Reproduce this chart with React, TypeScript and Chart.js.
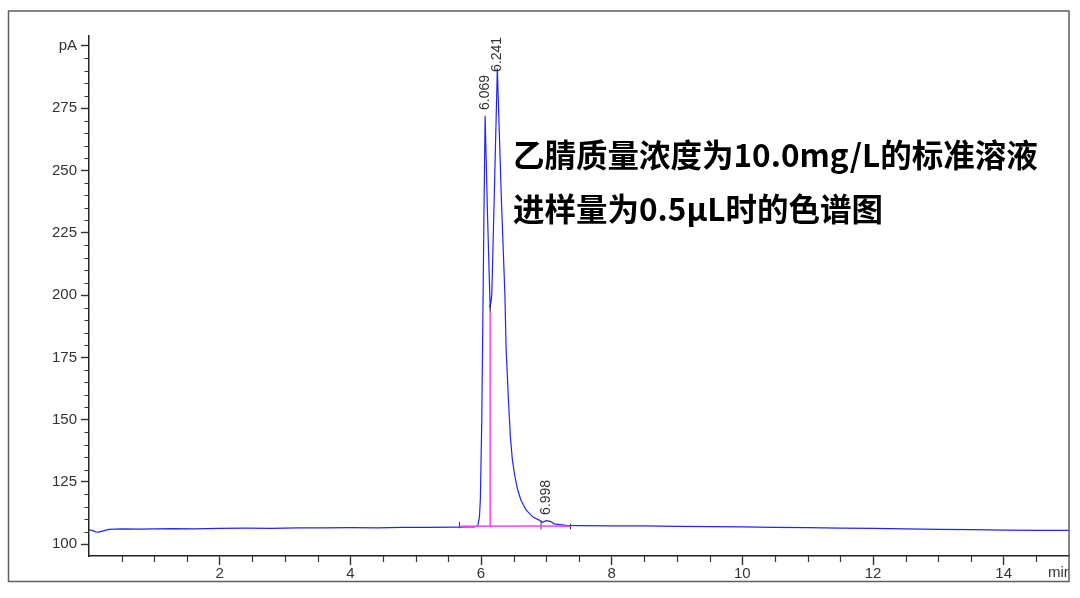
import React, { useEffect, useRef } from 'react';
import { Chart, registerables } from 'chart.js';

Chart.register(...registerables);

// Chromatogram trace (time in min, signal in pA)
const times = [
  0.0, 0.05, 0.1, 0.15, 0.22, 0.3, 0.5, 0.8, 1.0, 1.3, 1.6, 2.0, 2.4, 2.8, 3.2, 3.6, 4.0, 4.4, 4.8, 5.2, 5.6,
  5.9, 5.95, 5.976, 5.99, 6.012, 6.03, 6.045, 6.063, 6.1, 6.14, 6.165, 6.21, 6.25, 6.31, 6.366, 6.385,
  6.42, 6.45, 6.48, 6.52, 6.56, 6.61, 6.69, 6.79, 6.89, 6.94, 7.0, 7.06, 7.12, 7.3,
  7.5, 8.0, 8.5, 9.0, 9.5, 10.0, 10.5, 11.0, 11.5, 12.0, 12.5, 13.0, 13.5, 14.0, 14.5, 15.0,
];
const signal = [
  105.8, 105.6, 105.0, 104.9, 105.4, 106.0, 106.2, 106.1, 106.2, 106.3, 106.2, 106.4, 106.5, 106.4, 106.6, 106.6,
  106.7, 106.6, 106.8, 106.8, 106.9,
  107.0, 107.3, 111.0, 118.0, 150.0, 195.0, 232.0, 272.0, 232.0, 195.0, 200.0, 247.0, 291.0, 240.0, 200.0,
  178.0, 158.0, 143.0, 134.0, 127.0, 122.0, 117.8, 113.8, 111.0, 109.7, 108.8, 109.5, 109.2, 108.2, 107.6,
  107.5, 107.4, 107.4, 107.2, 107.1, 107.0, 106.8, 106.7, 106.5, 106.4, 106.2, 106.0, 105.9, 105.7, 105.6, 105.6,
];

// Peak annotations
const peakTimes = [6.069, 6.241, 6.998];
const peakLabels = ['6.069', '6.241', '6.998'];
const peakLabelBase = [274.3, 289.6, 111.8];

// Integration baselines
const baseStartTimes = [5.67, 6.92];
const baseStartValues = [107.2, 107.3];
const baseEndTimes = [6.92, 7.37];
const baseEndValues = [107.3, 107.2];

// Peak separation drop line
const dropTimes = [6.14];
const dropBottoms = [107.2];
const dropTops = [193.3];
const dropMarkTops = [196.0];

// Integration event ticks
const eventTimes = [5.67, 6.92, 7.37];
const eventLows = [106.4, 106.0, 106.1];
const eventHighs = [109.0, 109.4, 108.2];

// Axes
const yMin = 95.3;
const yMax = 304;
const yMajorStep = 25;
const yMinorStep = 5;
const xMin = 0;
const xMax = 15;
const xMajorStep = 2;
const xMinorStep = 0.5;
const yUnitLabel = 'pA';
const xUnitLabel = 'min';

const annotationLines = ['乙腈质量浓度为10.0mg/L的标准溶液', '进样量为0.5μL时的色谱图'];

const AXIS_FONT = '"Liberation Sans", Arial, sans-serif';

export default function App() {
  const ref = useRef<HTMLCanvasElement | null>(null);

  useEffect(() => {
    document.body.style.margin = '0';
    const canvas = ref.current;
    if (!canvas) return;

    const trace = times.map((t, i) => ({ x: t, y: signal[i] }));

    const overlay: any[] = [];
    baseStartTimes.forEach((t, i) => {
      overlay.push({
        data: [
          { x: t, y: baseStartValues[i] },
          { x: baseEndTimes[i], y: baseEndValues[i] },
        ],
        borderColor: '#ff3cff',
        borderWidth: 1.5,
      });
    });
    dropTimes.forEach((t, i) => {
      overlay.push({
        data: [
          { x: t, y: dropBottoms[i] },
          { x: t, y: dropTops[i] },
        ],
        borderColor: '#ff3cff',
        borderWidth: 1.5,
      });
      overlay.push({
        data: [
          { x: t, y: dropTops[i] },
          { x: t, y: dropMarkTops[i] },
        ],
        borderColor: '#222',
        borderWidth: 1.2,
      });
    });
    eventTimes.forEach((t, i) => {
      overlay.push({
        data: [
          { x: t, y: eventLows[i] },
          { x: t, y: eventHighs[i] },
        ],
        borderColor: '#333',
        borderWidth: 1,
      });
    });

    const decorPlugin = {
      id: 'decor',
      beforeDraw(chart: any) {
        const c = chart.ctx;
        c.save();
        c.fillStyle = '#fff';
        c.fillRect(0, 0, chart.width, chart.height);
        c.restore();
      },
      afterDraw(chart: any) {
        const c = chart.ctx;
        const xs = chart.scales.x;
        const ys = chart.scales.y;
        const area = chart.chartArea;
        c.save();
        // minor ticks
        c.strokeStyle = '#333';
        c.lineWidth = 1.2;
        c.beginPath();
        for (let v = 100; v <= 300; v += yMinorStep) {
          if (v % yMajorStep === 0) continue;
          const py = Math.round(ys.getPixelForValue(v)) + 0.5;
          c.moveTo(area.left - 4.5, py);
          c.lineTo(area.left, py);
        }
        for (let v = xMinorStep; v < xMax; v += xMinorStep) {
          if (Math.abs(v % xMajorStep) < 1e-9) continue;
          const px = Math.round(xs.getPixelForValue(v)) + 0.5;
          c.moveTo(px, area.bottom);
          c.lineTo(px, area.bottom + 6);
        }
        c.stroke();

        // peak labels (rotated)
        c.fillStyle = '#333';
        c.font = `14px ${AXIS_FONT}`;
        c.textAlign = 'left';
        c.textBaseline = 'middle';
        peakTimes.forEach((t, i) => {
          const px = xs.getPixelForValue(t);
          const py = ys.getPixelForValue(peakLabelBase[i]);
          c.save();
          c.translate(px, py);
          c.rotate(-Math.PI / 2);
          c.fillText(peakLabels[i], 0, 0);
          c.restore();
        });

        // x unit label
        c.save();
        c.beginPath();
        c.rect(0, 0, 1069, chart.height);
        c.clip();
        c.font = `15px ${AXIS_FONT}`;
        c.textAlign = 'left';
        c.textBaseline = 'top';
        c.fillStyle = '#333';
        c.fillText(xUnitLabel, xs.right - 21, area.bottom + 9);
        c.restore();

        // outer frame
        c.strokeStyle = '#5e5e5e';
        c.lineWidth = 1.5;
        c.strokeRect(8.5, 11, 1060.5, 570.5);

        // annotation text
        c.fillStyle = '#000';
        c.font = `bold 31.5px "Noto Sans CJK SC", sans-serif`;
        c.textAlign = 'left';
        c.textBaseline = 'middle';
        c.fillText(annotationLines[0], 513, 155);
        c.fillText(annotationLines[1], 513, 209);
        c.restore();
      },
    };

    const chart = new Chart(canvas, {
      type: 'line',
      data: {
        datasets: [
          ...overlay,
          {
            data: trace,
            borderColor: '#2323ff',
            borderWidth: 1.2,
          },
        ],
      },
      options: {
        animation: false,
        responsive: false,
        devicePixelRatio: 1,
        parsing: false,
        normalized: true,
        elements: { point: { radius: 0 }, line: { tension: 0 } },
        layout: { padding: { top: 36, right: 11, left: 0, bottom: 0 } },
        plugins: { legend: { display: false }, tooltip: { enabled: false }, title: { display: false } },
        scales: {
          x: {
            type: 'linear',
            min: xMin,
            max: xMax,
            afterFit: (s: any) => {
              s.height = 42;
            },
            ticks: {
              stepSize: xMajorStep,
              includeBounds: false,
              autoSkip: false,
              maxRotation: 0,
              padding: 0,
              color: '#333',
              font: { size: 15, family: AXIS_FONT },
              callback: (v: any) => (v === 0 ? '' : String(v)),
            },
            grid: {
              drawOnChartArea: false,
              drawTicks: true,
              tickLength: 9,
              tickWidth: 1.4,
              tickColor: (ctx: any) => (ctx.tick && ctx.tick.value === 0 ? 'rgba(0,0,0,0)' : '#333'),
            },
            border: { display: true, color: '#222', width: 1.5 },
          },
          y: {
            type: 'linear',
            min: yMin,
            max: yMax,
            afterFit: (s: any) => {
              s.width = 89;
            },
            ticks: {
              stepSize: yMajorStep,
              includeBounds: false,
              autoSkip: false,
              padding: 4,
              color: '#333',
              font: { size: 15, family: AXIS_FONT },
              callback: (v: any) => (v === 300 ? yUnitLabel : String(v)),
            },
            grid: {
              drawOnChartArea: false,
              drawTicks: true,
              tickLength: 8,
              tickWidth: 1.4,
              tickColor: '#333',
            },
            border: { display: true, color: '#222', width: 1.5 },
          },
        },
      },
      plugins: [decorPlugin],
    } as any);

    return () => chart.destroy();
  }, []);

  return (
    <div style={{ width: 1080, height: 598, background: '#fff' }}>
      <canvas ref={ref} width={1080} height={598} style={{ display: 'block' }} />
    </div>
  );
}
